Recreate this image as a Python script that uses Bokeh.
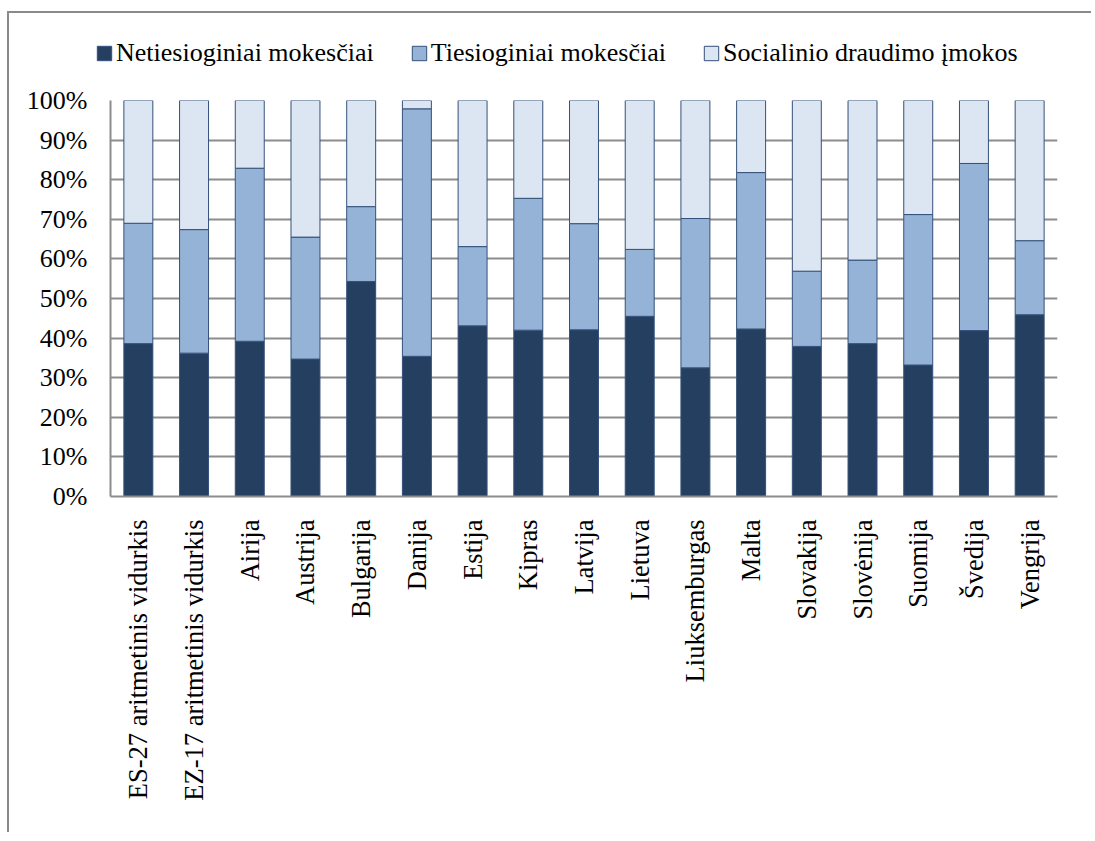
from bokeh.plotting import figure
from bokeh.models import FactorRange, Range1d, FixedTicker, NumeralTickFormatter, Legend, LegendItem, ColumnDataSource
from bokeh.embed import file_html
from bokeh.resources import INLINE
import math

categories = ["ES-27 aritmetinis vidurkis", "EZ-17 aritmetinis vidurkis", "Airija", "Austrija",
              "Bulgarija", "Danija", "Estija", "Kipras", "Latvija", "Lietuva", "Liuksemburgas",
              "Malta", "Slovakija", "Slovėnija", "Suomija", "Švedija", "Vengrija"]
netiesioginiai = [38.6, 36.2, 39.2, 34.7, 54.3, 35.4, 43.1, 42.0, 42.1, 45.5, 32.5, 42.3, 37.9, 38.6, 33.2, 41.9, 45.9]
tiesioginiai = [30.4, 31.2, 43.7, 30.8, 18.9, 62.5, 20.0, 33.3, 26.8, 16.9, 37.7, 39.5, 19.0, 21.1, 38.0, 42.2, 18.7]
socialinio = [31.0, 32.6, 17.1, 34.5, 26.8, 2.1, 36.9, 24.7, 31.1, 37.6, 29.8, 18.2, 43.1, 40.3, 28.8, 15.9, 35.4]
series_names = ["Netiesioginiai mokesčiai", "Tiesioginiai mokesčiai", "Socialinio draudimo įmokos"]
y_ticks = [i / 10 for i in range(11)]

colors = ["#253F60", "#95B3D7", "#DCE6F2"]
EDGE = "#34507A"
FONT = "Liberation Serif"
BORDER = "2px solid #8A8A8A"
W = 1078

src = ColumnDataSource(dict(
    cat=categories,
    s1=[v / 100 for v in netiesioginiai],
    s2=[v / 100 for v in tiesioginiai],
    s3=[v / 100 for v in socialinio],
))

# ---- legend strip (separate root above the chart) ----
lf = figure(width=1084, height=73, x_range=Range1d(0, 1), y_range=Range1d(0, 1),
            output_backend="svg", toolbar_location=None,
            min_border_left=0, min_border_right=0, min_border_top=0, min_border_bottom=0)
lf.axis.visible = False
lf.grid.visible = False
lf.outline_line_color = None
dummies = [lf.vbar(x=[5], top=[0], width=0.5, fill_color=c, line_color=EDGE, line_width=1) for c in colors]
legend = Legend(items=[LegendItem(label=n, renderers=[r]) for n, r in zip(series_names, dummies)],
                orientation="horizontal", location=(86, 18))
legend.border_line_color = None
legend.background_fill_alpha = 0
legend.padding = 0
legend.margin = 0
legend.spacing = 36
legend.label_standoff = 3
legend.glyph_width = 18
legend.glyph_height = 18
legend.label_text_font = FONT
legend.label_text_font_size = "26px"
legend.label_text_color = "black"
lf.add_layout(legend, "center")
lf.styles = {"border-left": BORDER, "border-top": BORDER, "margin-top": "11px", "margin-left": "7px"}

# ---- main chart ----
p = figure(x_range=FactorRange(*categories), y_range=Range1d(0, 1),
           width=W, height=748, output_backend="svg", toolbar_location=None,
           min_border_left=101, min_border_right=30, min_border_top=16, min_border_bottom=336)
p.styles = {"border-left": BORDER, "margin-left": "7px"}

p.vbar_stack(["s1", "s2", "s3"], x="cat", width=0.52, source=src,
             fill_color=colors, line_color=EDGE, line_width=1)

p.outline_line_color = None
p.xgrid.grid_line_color = None
p.ygrid.grid_line_color = "#8C8C8C"
p.ygrid.grid_line_width = 2
p.yaxis.ticker = FixedTicker(ticks=y_ticks)
p.yaxis.formatter = NumeralTickFormatter(format="0%")
p.yaxis.minor_tick_line_color = None

for ax in (p.xaxis[0], p.yaxis[0]):
    ax.axis_line_color = "#8C8C8C"
    ax.axis_line_width = 2
    ax.major_tick_line_color = None
    ax.major_tick_out = 0
    ax.major_tick_in = 0
    ax.major_label_text_font = FONT
    ax.major_label_text_color = "black"
    ax.major_label_standoff = 23

p.yaxis.major_label_text_font_size = "26px"
p.xaxis.major_label_text_font_size = "26.5px"
p.xaxis.major_label_orientation = math.pi / 2

open("out.html", "w").write(file_html([lf, p], INLINE))
